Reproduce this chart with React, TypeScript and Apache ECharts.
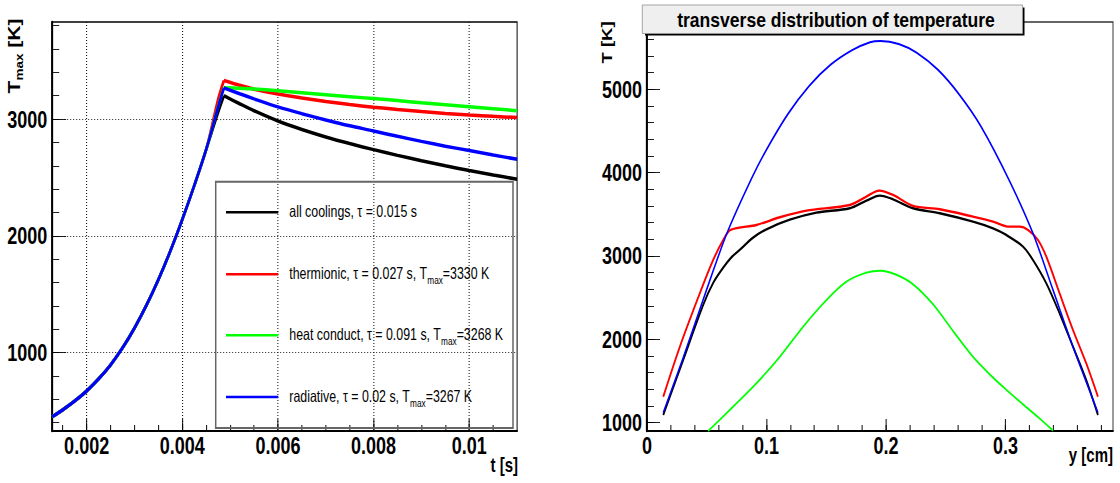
import React, { useEffect, useRef } from 'react';
import * as echarts from 'echarts';

// ---------------- layout constants ----------------
const S = 0.75; // reference is horizontally condensed
const PAGE_W = 1120;
const PAGE_H = 483;
const X = (px: number) => px / S;
const FONT = 'Liberation Sans, Arial, Helvetica, sans-serif';

// ---------------- left panel data: T_max vs t ----------------
const heatTime = [0.00128, 0.0015, 0.00175, 0.002, 0.00225, 0.0025, 0.00275, 0.003, 0.00325, 0.0035, 0.00375, 0.004, 0.00425, 0.0045];
const heatTemp = [451, 510, 585, 672, 775, 895, 1040, 1210, 1405, 1625, 1870, 2140, 2430, 2740];
const lateHeatTime = 0.00475;
const lateHeat = [3060, 3170, 3110, 3105];
const coolTime = [0.00487, 0.0052, 0.0055, 0.006, 0.0065, 0.007, 0.0075, 0.008, 0.0085, 0.009, 0.0095, 0.01, 0.0105, 0.011];
const coolAll = [3200, 3131, 3071, 2983, 2911, 2847, 2790, 2738, 2689, 2643, 2600, 2559, 2521, 2485];
const coolThermionic = [3330, 3289, 3256, 3214, 3180, 3150, 3124, 3102, 3082, 3064, 3048, 3034, 3023, 3013];
const coolHeat = [3268, 3263, 3258, 3243, 3226, 3209, 3192, 3175, 3158, 3140, 3123, 3106, 3089, 3072];
const coolRadiative = [3267, 3217, 3173, 3104, 3046, 2992, 2942, 2898, 2852, 2809, 2768, 2730, 2692, 2656];

const seriesColors = ['#000000', '#ff0000', '#00ff00', '#0000ff'];
const seriesLabels = ['all coolings, τ = 0.015 s', 'thermionic, τ = 0.027 s, ', 'heat conduct, τ = 0.091 s, ', 'radiative, τ = 0.02 s, '];
const seriesTmax = [0, 3330, 3268, 3267];

const tMajor = [0.002, 0.004, 0.006, 0.008, 0.01];
const tMinor = [0.0015, 0.002, 0.0025, 0.003, 0.0035, 0.004, 0.0045, 0.005, 0.0055, 0.006, 0.0065, 0.007, 0.0075, 0.008, 0.0085, 0.009, 0.0095, 0.01, 0.0105];
const tempMajorL = [1000, 2000, 3000];
const tempMinorL = [400, 600, 800, 1000, 1200, 1400, 1600, 1800, 2000, 2200, 2400, 2600, 2800, 3000, 3200, 3400, 3600, 3800];

// ---------------- right panel data: transverse distribution ----------------
const posBlack = [0.0136, 0.0303, 0.047, 0.0555, 0.0638, 0.0707, 0.0777, 0.0888, 0.1, 0.1195, 0.1418, 0.1697, 0.1836, 0.1948, 0.2059, 0.2227, 0.245, 0.2728, 0.2896, 0.3007, 0.3147, 0.323, 0.3342, 0.3453, 0.3565, 0.3676, 0.3774];
const tempBlack = [1092, 1752, 2412, 2680, 2860, 2985, 3075, 3220, 3320, 3435, 3520, 3572, 3664, 3724, 3680, 3572, 3512, 3412, 3332, 3252, 3112, 2952, 2672, 2312, 1912, 1512, 1092];
const posRed = [0.0136, 0.0275, 0.0442, 0.0554, 0.0638, 0.0699, 0.0916, 0.1112, 0.1335, 0.1697, 0.1836, 0.1942, 0.2059, 0.2227, 0.245, 0.2728, 0.2896, 0.3021, 0.3119, 0.3189, 0.3272, 0.3342, 0.3453, 0.3565, 0.3676, 0.3774];
const tempRed = [1312, 1912, 2552, 2952, 3192, 3312, 3372, 3464, 3544, 3612, 3712, 3784, 3732, 3600, 3560, 3472, 3412, 3352, 3352, 3312, 3192, 2992, 2552, 2112, 1712, 1312];
const posGreen = [0.0512, 0.0721, 0.0916, 0.1112, 0.1307, 0.1502, 0.1669, 0.1836, 0.1953, 0.2087, 0.2227, 0.2394, 0.2561, 0.2728, 0.2868, 0.3007, 0.3147, 0.3286, 0.3398];
const tempGreen = [900, 1192, 1472, 1792, 2152, 2472, 2692, 2800, 2824, 2775, 2660, 2420, 2100, 1790, 1580, 1395, 1220, 1050, 905];
const posBlue = [0.0136, 0.0303, 0.0498, 0.0671, 0.0875, 0.0998, 0.1178, 0.1357, 0.1537, 0.1717, 0.1867, 0.1955, 0.2107, 0.2256, 0.2436, 0.2616, 0.2796, 0.303, 0.323, 0.3398, 0.3565, 0.3774];
const tempBlue = [1120, 1780, 2592, 3280, 3930, 4270, 4700, 5040, 5295, 5470, 5565, 5580, 5544, 5440, 5232, 4932, 4552, 3912, 3272, 2592, 1912, 1120];

const yMajor = [0, 0.1, 0.2, 0.3];
const yMinor = [0.02, 0.04, 0.06, 0.08, 0.1, 0.12, 0.14, 0.16, 0.18, 0.2, 0.22, 0.24, 0.26, 0.28, 0.3, 0.32, 0.34, 0.36, 0.38];
const tempMajorR = [1000, 2000, 3000, 4000, 5000];
const tempMinorR = [1000, 1200, 1400, 1600, 1800, 2000, 2200, 2400, 2600, 2800, 3000, 3200, 3400, 3600, 3800, 4000, 4200, 4400, 4600, 4800, 5000, 5200, 5400, 5600, 5800];

const fmt = (v: number) => String(parseFloat(Number(v).toFixed(4)));

function xAxisPair(grid: number, min: number, max: number, major: number[], minor: number[], grids: boolean) {
  return [
    {
      gridIndex: grid, type: 'value', min, max, position: 'bottom',
      axisLine: { show: true, onZero: false, lineStyle: { color: '#000', width: 2 } },
      axisTick: { show: true, inside: true, length: 12, customValues: major, lineStyle: { color: '#000', width: 1.3 } },
      axisLabel: { show: true, customValues: major, formatter: fmt, color: '#000', fontSize: 24, fontWeight: 'bold', fontFamily: FONT, margin: 3 },
      splitLine: { show: grids, lineStyle: { color: '#000', width: 1.3, type: [1, 2] } },
      minorTick: { show: false }, minorSplitLine: { show: false },
    },
    {
      gridIndex: grid, type: 'value', min, max, position: 'bottom',
      axisLine: { show: false, onZero: false },
      axisTick: { show: true, inside: true, length: 6, customValues: minor, lineStyle: { color: '#000', width: 1.3 } },
      axisLabel: { show: false }, splitLine: { show: false },
    },
  ];
}

function yAxisPair(grid: number, min: number, max: number, major: number[], minor: number[], grids: boolean, majorLen: number) {
  return [
    {
      gridIndex: grid, type: 'value', min, max, position: 'left',
      axisLine: { show: true, onZero: false, lineStyle: { color: '#000', width: 2.7 } },
      axisTick: { show: true, inside: true, length: majorLen, customValues: major, lineStyle: { color: '#000', width: 1 } },
      axisLabel: { show: true, customValues: major, formatter: fmt, color: '#000', fontSize: 24, fontWeight: 'bold', fontFamily: FONT, margin: X(5) },
      splitLine: { show: grids, lineStyle: { color: '#000', width: 1, type: [1.33, 2.67] } },
      minorTick: { show: false }, minorSplitLine: { show: false },
    },
    {
      gridIndex: grid, type: 'value', min, max, position: 'left',
      axisLine: { show: false, onZero: false },
      axisTick: { show: true, inside: true, length: X(7), customValues: minor, lineStyle: { color: '#000', width: 1 } },
      axisLabel: { show: false }, splitLine: { show: false },
    },
  ];
}

function buildOption() {
  const coolSets = [coolAll, coolThermionic, coolHeat, coolRadiative];
  const lineBase = { type: 'line', xAxisIndex: 0, yAxisIndex: 0, symbol: 'none', showSymbol: false, silent: true, smooth: 0.3 };
  const heatSeries = coolSets.map((cool, i) => ({
    ...lineBase,
    lineStyle: { color: seriesColors[i], width: 3.5 }, itemStyle: { color: seriesColors[i] },
    data: [
      ...heatTime.map((t, k) => [t, heatTemp[k]]),
      [lateHeatTime, lateHeat[i]],
      [coolTime[0], cool[0]],
    ],
  }));
  const coolSeries = coolSets.map((cool, i) => ({
    ...lineBase,
    lineStyle: { color: seriesColors[i], width: 3.5 }, itemStyle: { color: seriesColors[i] },
    data: coolTime.map((t, k) => [t, cool[k]]),
  }));
  const rightSets = [
    [posBlack, tempBlack],
    [posRed, tempRed],
    [posGreen, tempGreen],
    [posBlue, tempBlue],
  ];
  const rightSeries = rightSets.map(([xs, ts], i) => ({
    type: 'line', xAxisIndex: 2, yAxisIndex: 2, symbol: 'none', showSymbol: false, silent: true, smooth: 0.3,
    lineStyle: { color: seriesColors[i], width: i < 2 ? 2.4 : 2 }, itemStyle: { color: seriesColors[i] },
    data: xs.map((x, k) => [x, ts[k]]),
  }));

  const legendY = [212.3, 274.3, 335.3, 397];
  const legendEls: any[] = [
    { type: 'rect', z: 100, shape: { x: X(215.7), y: 181.7, width: X(513 - 215.7), height: 428 - 181.7 }, style: { fill: 'none', stroke: '#666', lineWidth: 2 } },
  ];
  seriesLabels.forEach((label, i) => {
    legendEls.push({ type: 'line', z: 100, shape: { x1: X(226), y1: legendY[i], x2: X(278.3), y2: legendY[i] }, style: { stroke: seriesColors[i], lineWidth: 2.5 } });
    const txt = seriesTmax[i] ? `{n|${label}T}{s|max}{n|=${seriesTmax[i]} K}` : `{n|${label}}`;
    legendEls.push({
      type: 'text', z: 100, x: X(289.3), y: legendY[i] - 1,
      style: {
        text: txt, align: 'left', verticalAlign: 'middle',
        rich: {
          n: { fontSize: 16.5, fontFamily: FONT, fill: '#000', verticalAlign: 'middle' },
          s: { fontSize: 11, fontFamily: FONT, fill: '#000', padding: [14, 0, 0, 0], verticalAlign: 'middle' },
        },
      },
    });
  });

  const graphic: any[] = [
    ...legendEls,
    // left y title
    {
      type: 'text', z: 100, x: X(14.5), y: 56, rotation: Math.PI / 2,
      style: {
        text: '{a|T}{b|max}{a| [K]}', align: 'center', verticalAlign: 'middle',
        rich: {
          a: { fontSize: 21, fontWeight: 'bold', fontFamily: FONT, fill: '#000', verticalAlign: 'middle' },
          b: { fontSize: 13.5, fontWeight: 'bold', fontFamily: FONT, fill: '#000', padding: [13, 0, 0, 0], verticalAlign: 'middle' },
        },
      },
    },
    // left x title
    { type: 'text', z: 100, x: X(518), y: 465, style: { text: 't [s]', align: 'right', verticalAlign: 'middle', fontSize: 20, fontWeight: 'bold', fontFamily: FONT, fill: '#000' } },
    // right title box
    { type: 'rect', z: 100, shape: { x: X(645), y: 7.5, width: X(1024.5 - 645), height: 28 }, style: { fill: '#000' } },
    { type: 'rect', z: 101, shape: { x: X(642.3), y: 5, width: X(1022.5 - 642.3), height: 28.5 }, style: { fill: '#efefef', stroke: '#999', lineWidth: 1 } },
    { type: 'text', z: 102, x: X(836), y: 20, scaleX: 1.17, style: { text: 'transverse distribution of temperature', align: 'center', verticalAlign: 'middle', fontSize: 20, fontWeight: 'bold', fontFamily: FONT, fill: '#000' } },
    // right y title
    { type: 'text', z: 100, x: X(606.7), y: 42.5, rotation: Math.PI / 2, style: { text: 'T [K]', align: 'center', verticalAlign: 'middle', fontSize: 18.5, fontWeight: 'bold', fontFamily: FONT, fill: '#000' } },
    // right x title
    { type: 'text', z: 100, x: X(1113), y: 455, style: { text: 'y [cm]', align: 'right', verticalAlign: 'middle', fontSize: 20, fontWeight: 'bold', fontFamily: FONT, fill: '#000' } },
  ];

  return {
    animation: false,
    backgroundColor: '#ffffff',
    textStyle: { fontFamily: FONT },
    grid: [
      { left: X(52.2), top: 22, width: X(464.9), height: 409, show: true, borderColor: '#000', borderWidth: 1.3, backgroundColor: 'transparent', containLabel: false, outerBoundsMode: 'none' },
      { left: X(647), top: 22, width: X(466), height: 409, show: true, borderColor: '#333', borderWidth: 1.3, backgroundColor: 'transparent', containLabel: false, outerBoundsMode: 'none' },
    ],
    xAxis: [
      ...xAxisPair(0, 0.00128, 0.011, tMajor, tMinor, true),
      ...xAxisPair(1, 0, 0.39, yMajor, yMinor, false),
    ],
    yAxis: [
      ...yAxisPair(0, 329, 3831, tempMajorL, tempMinorL, true, X(14)),
      ...yAxisPair(1, 900, 5807, tempMajorR, tempMinorR, false, X(13)),
    ],
    series: [...heatSeries, ...coolSeries, ...rightSeries],
    graphic,
  };
}

export default function App() {
  const ref = useRef<HTMLDivElement>(null);
  useEffect(() => {
    if (!ref.current) return;
    const chart = echarts.init(ref.current, undefined, { renderer: 'svg', width: Math.round(PAGE_W / S), height: PAGE_H });
    chart.setOption(buildOption() as any);
    return () => chart.dispose();
  }, []);
  return (
    <div style={{ position: 'fixed', left: 0, top: 0, width: PAGE_W, height: PAGE_H, overflow: 'hidden', background: '#fff' }}>
      <div ref={ref} style={{ width: Math.round(PAGE_W / S), height: PAGE_H, transform: `scaleX(${S})`, transformOrigin: '0 0' }} />
    </div>
  );
}
